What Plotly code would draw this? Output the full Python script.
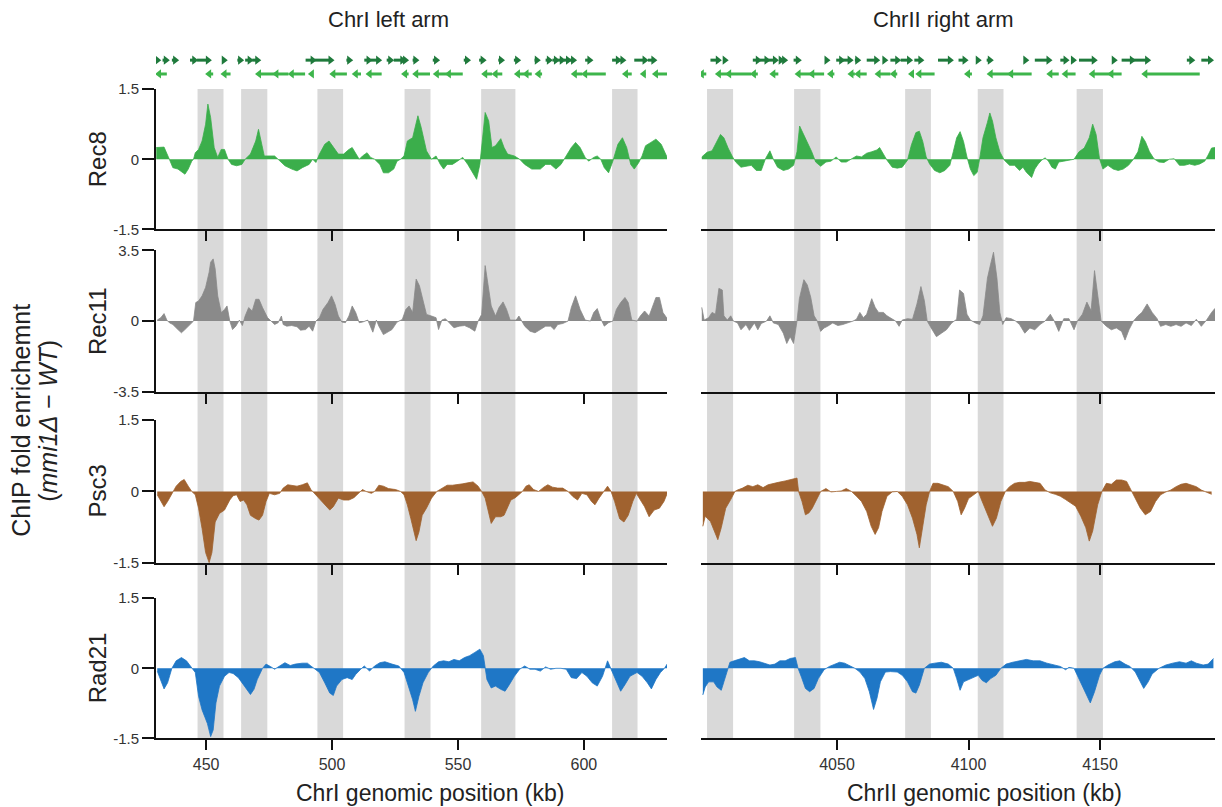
import plotly.graph_objects as go

# ---------------- data ----------------
# ChrI left arm: position (kb) and ChIP fold enrichment (mmi1Δ − WT)
rec8_L_kb = [430.2, 433.3, 435.4, 436.8, 438.8, 441.6, 442.9, 444.3, 445.0, 445.7, 447.0, 448.4, 449.8, 450.7, 451.8, 453.2, 454.6, 456.0, 457.3, 458.7, 460.1, 462.1, 464.2, 465.5, 467.6, 469.7, 470.8, 471.7, 473.1, 477.2, 478.6, 481.3, 484.0, 486.1, 488.2, 490.9, 492.3, 493.6, 495.0, 497.1, 498.8, 500.5, 502.5, 504.6, 506.7, 508.0, 509.4, 510.8, 512.1, 513.9, 515.3, 516.9, 519.0, 520.4, 522.4, 524.5, 525.8, 527.2, 528.6, 529.9, 532.0, 534.1, 535.4, 537.5, 539.5, 541.3, 543.0, 544.3, 545.7, 547.8, 549.8, 551.9, 553.9, 556.0, 557.4, 558.7, 559.7, 560.8, 562.2, 563.5, 564.9, 567.0, 568.3, 569.7, 572.4, 574.5, 576.5, 579.3, 582.7, 584.8, 586.8, 588.9, 590.9, 593.0, 595.0, 596.7, 598.5, 600.5, 601.9, 603.9, 605.3, 606.7, 608.1, 609.8, 611.5, 613.5, 615.3, 617.0, 618.6, 620.0, 621.8, 623.1, 624.5, 626.6, 628.6, 630.7, 632.7, 633.4]
rec8_L_val = [0.25, 0.26, 0.0, -0.18, -0.21, -0.32, -0.21, -0.04, 0.0, 0.14, 0.21, 0.39, 0.75, 1.18, 0.89, 0.25, 0.04, 0.21, 0.21, 0.0, -0.11, -0.14, -0.11, 0.0, 0.11, 0.39, 0.64, 0.39, 0.07, 0.07, 0.0, -0.14, -0.21, -0.25, -0.18, -0.11, 0.0, -0.07, 0.11, 0.32, 0.39, 0.25, 0.11, 0.11, 0.21, 0.25, 0.11, 0.0, 0.07, 0.14, 0.04, 0.0, -0.11, -0.29, -0.29, -0.21, -0.04, 0.0, 0.07, 0.39, 0.46, 0.93, 0.68, 0.18, 0.0, 0.07, -0.11, -0.21, -0.11, -0.11, -0.04, 0.04, -0.11, -0.29, -0.43, -0.11, 0.39, 1.0, 0.82, 0.25, 0.29, 0.44, 0.25, 0.11, 0.07, 0.0, -0.11, -0.21, -0.21, -0.11, -0.11, -0.21, -0.11, 0.07, 0.25, 0.36, 0.25, 0.04, -0.04, 0.04, 0.07, 0.0, -0.18, -0.29, -0.04, 0.32, 0.46, 0.25, -0.11, -0.21, -0.07, 0.07, 0.29, 0.36, 0.43, 0.32, 0.07, 0.0]

rec11_L_kb = [430.6, 432.0, 433.3, 434.4, 435.4, 436.8, 438.8, 440.2, 441.6, 443.6, 445.0, 445.9, 447.0, 448.4, 449.8, 451.2, 451.8, 452.8, 453.6, 454.6, 456.0, 457.3, 458.3, 459.4, 460.5, 461.8, 463.2, 464.4, 465.5, 466.9, 468.3, 469.7, 471.0, 472.4, 474.4, 475.8, 477.2, 478.6, 479.9, 480.6, 482.0, 484.0, 486.1, 487.5, 489.5, 490.9, 492.3, 493.6, 495.0, 496.4, 498.4, 499.8, 501.2, 502.5, 503.9, 505.3, 506.7, 508.0, 509.4, 510.8, 512.1, 514.2, 515.3, 516.2, 517.6, 518.6, 520.4, 521.7, 523.8, 525.8, 527.9, 529.3, 530.6, 532.0, 533.4, 534.7, 536.1, 537.5, 539.5, 541.3, 542.3, 543.6, 545.0, 546.4, 548.4, 550.5, 552.6, 554.6, 556.7, 558.0, 559.4, 560.8, 561.9, 563.2, 564.9, 566.3, 567.9, 569.3, 570.7, 573.1, 574.2, 575.2, 576.5, 578.6, 580.6, 582.7, 584.8, 586.8, 588.2, 589.6, 591.6, 593.7, 595.0, 596.7, 598.5, 600.5, 602.6, 603.9, 605.3, 606.7, 608.1, 609.8, 611.5, 612.9, 614.6, 616.3, 617.6, 619.0, 621.1, 622.4, 624.1, 625.9, 627.2, 628.6, 630.0, 631.4, 633.1]
rec11_L_val = [0.05, 0.17, 0.37, 0.05, -0.08, -0.17, -0.42, -0.58, -0.42, -0.17, 0.0, 0.92, 1.0, 1.25, 1.67, 2.42, 2.92, 3.08, 2.58, 1.25, 0.42, 0.58, 0.75, 0.0, -0.42, -0.25, 0.05, -0.22, 0.25, 0.67, 0.5, 1.08, 1.08, 0.67, 0.17, 0.0, -0.17, -0.08, 0.25, -0.17, -0.25, -0.22, -0.28, -0.45, -0.42, -0.25, -0.5, 0.0, 0.17, 0.58, 0.92, 1.25, 0.83, 0.25, -0.05, -0.08, 0.25, 0.75, 0.42, -0.08, -0.05, 0.05, -0.25, -0.55, 0.05, -0.25, -0.67, -0.58, -0.42, -0.05, 0.08, 0.58, 0.75, 0.42, 2.08, 1.75, 1.08, 0.33, 0.25, 0.17, -0.42, 0.05, 0.12, -0.08, -0.33, -0.25, -0.22, -0.33, -0.5, 0.0, 0.33, 2.75, 1.92, 0.75, 0.25, 0.67, 0.95, 0.58, 0.05, 0.05, 0.25, 0.0, -0.25, -0.5, -0.58, -0.42, -0.25, -0.25, -0.42, -0.17, -0.12, 0.0, 0.67, 1.25, 0.58, 0.05, 0.0, 0.42, 0.62, 0.12, -0.25, -0.08, 0.0, 0.58, 0.92, 1.17, 0.92, 0.05, 0.0, 0.25, 0.5, 0.25, 0.75, 1.17, 1.17, 0.42, 0.12]

psc3_L_kb = [430.6, 432.0, 433.3, 434.7, 436.8, 438.1, 439.9, 441.3, 442.9, 444.3, 445.7, 447.0, 448.4, 449.8, 451.2, 452.3, 453.6, 455.3, 457.3, 459.4, 460.7, 462.1, 463.5, 464.9, 466.2, 467.6, 469.7, 471.0, 472.4, 473.8, 475.1, 477.2, 479.2, 480.6, 482.4, 484.0, 486.1, 488.2, 490.2, 491.6, 493.0, 495.0, 497.1, 499.1, 500.5, 502.5, 504.6, 506.7, 508.7, 510.4, 512.1, 513.5, 515.6, 516.9, 518.6, 520.4, 522.4, 525.2, 527.2, 528.6, 529.9, 531.3, 532.7, 533.4, 534.5, 535.8, 537.5, 539.5, 541.6, 543.6, 545.7, 547.8, 549.8, 551.9, 553.9, 556.0, 558.0, 559.4, 560.8, 562.1, 563.2, 564.9, 567.0, 568.3, 569.7, 571.0, 572.8, 574.2, 575.6, 577.0, 578.3, 580.0, 582.0, 584.1, 585.7, 587.5, 589.6, 591.6, 593.7, 595.7, 597.5, 599.2, 601.2, 603.0, 604.4, 606.0, 608.1, 609.4, 610.8, 612.2, 614.2, 615.9, 617.6, 619.4, 620.8, 622.4, 624.1, 625.9, 627.9, 630.0, 631.8, 633.1]
psc3_L_val = [-0.07, -0.21, -0.32, -0.21, 0.0, 0.11, 0.21, 0.25, 0.11, 0.0, -0.07, -0.35, -0.78, -1.28, -1.49, -1.28, -0.64, -0.46, -0.39, -0.18, -0.09, -0.07, -0.21, -0.18, -0.28, -0.5, -0.57, -0.6, -0.5, -0.21, -0.04, -0.07, -0.04, 0.07, 0.14, 0.13, 0.11, 0.14, 0.18, 0.04, -0.04, -0.14, -0.28, -0.39, -0.32, -0.14, -0.18, -0.18, -0.13, -0.04, 0.04, 0.0, -0.04, 0.0, 0.13, 0.11, 0.06, 0.04, 0.0, -0.07, -0.28, -0.57, -0.85, -1.03, -0.85, -0.5, -0.35, -0.14, 0.0, 0.07, 0.13, 0.13, 0.14, 0.16, 0.18, 0.2, 0.11, 0.0, -0.14, -0.43, -0.67, -0.53, -0.53, -0.5, -0.35, -0.18, -0.13, -0.07, 0.0, 0.11, 0.14, 0.04, 0.0, 0.09, 0.14, 0.09, 0.07, 0.07, 0.0, -0.11, -0.18, -0.04, -0.07, -0.21, -0.28, -0.14, 0.0, 0.11, 0.0, -0.21, -0.57, -0.64, -0.5, -0.21, -0.04, -0.18, -0.32, -0.53, -0.39, -0.35, -0.21, -0.04]

rad21_L_kb = [430.6, 432.0, 433.3, 434.7, 436.4, 438.1, 440.2, 442.2, 444.3, 445.7, 447.0, 448.4, 450.5, 451.8, 452.8, 453.9, 455.3, 457.3, 459.1, 460.7, 462.8, 464.9, 466.2, 467.6, 469.0, 470.3, 472.4, 473.8, 475.5, 477.2, 479.2, 481.3, 483.4, 485.4, 488.2, 490.2, 491.6, 493.0, 495.0, 497.1, 499.1, 500.5, 501.8, 503.9, 506.0, 508.0, 509.4, 511.4, 512.8, 514.9, 516.9, 519.0, 521.0, 523.8, 526.5, 528.6, 529.9, 532.0, 533.1, 534.5, 536.1, 538.2, 540.2, 542.3, 544.3, 546.4, 548.4, 550.5, 552.6, 554.6, 556.7, 558.7, 560.1, 561.5, 563.2, 564.9, 567.0, 568.7, 570.4, 572.4, 574.5, 576.5, 578.6, 580.6, 582.7, 584.8, 586.8, 588.9, 590.9, 593.0, 595.0, 597.1, 599.2, 601.2, 603.3, 605.3, 607.4, 609.4, 610.8, 612.6, 614.6, 616.3, 618.3, 621.1, 623.1, 625.2, 626.8, 628.6, 630.4, 632.0, 633.4]
rad21_L_val = [-0.06, -0.24, -0.44, -0.31, 0.0, 0.16, 0.23, 0.16, 0.0, -0.09, -0.6, -0.89, -1.18, -1.46, -1.32, -0.74, -0.38, -0.17, -0.09, -0.11, -0.2, -0.35, -0.45, -0.56, -0.45, -0.24, 0.0, 0.09, 0.04, -0.02, 0.05, 0.12, 0.06, 0.09, 0.11, 0.11, 0.05, 0.0, -0.09, -0.31, -0.53, -0.58, -0.38, -0.24, -0.2, -0.24, -0.13, -0.02, 0.05, -0.06, 0.05, 0.12, 0.14, 0.09, 0.05, -0.09, -0.31, -0.67, -0.92, -0.6, -0.31, -0.09, 0.05, 0.14, 0.16, 0.14, 0.19, 0.16, 0.23, 0.27, 0.34, 0.41, 0.27, -0.24, -0.42, -0.38, -0.45, -0.49, -0.35, -0.17, -0.02, 0.05, -0.02, -0.02, -0.06, 0.03, -0.02, 0.0, 0.0, -0.02, -0.2, -0.22, -0.09, -0.17, -0.31, -0.38, -0.17, 0.16, -0.02, -0.24, -0.49, -0.35, -0.17, -0.09, -0.17, -0.31, -0.44, -0.24, -0.09, 0.0, 0.12]

# ChrII right arm
rec8_R_kb = [3998.6, 4000.6, 4002.5, 4004.2, 4005.7, 4007.0, 4008.6, 4010.3, 4011.5, 4013.5, 4015.4, 4017.4, 4019.3, 4021.2, 4022.8, 4024.5, 4025.8, 4027.4, 4029.6, 4031.6, 4033.5, 4034.8, 4035.8, 4036.7, 4038.7, 4040.4, 4041.9, 4043.8, 4045.8, 4047.7, 4049.7, 4051.6, 4053.5, 4055.5, 4057.4, 4059.3, 4061.3, 4063.2, 4065.2, 4066.2, 4067.7, 4069.0, 4071.0, 4072.9, 4074.8, 4076.8, 4078.3, 4080.0, 4081.3, 4082.6, 4083.9, 4085.2, 4087.1, 4089.1, 4091.0, 4092.9, 4094.2, 4095.5, 4096.8, 4098.1, 4099.4, 4100.7, 4102.0, 4103.3, 4104.2, 4105.5, 4107.2, 4108.1, 4109.1, 4110.4, 4111.9, 4113.6, 4115.6, 4117.5, 4119.4, 4120.7, 4122.0, 4124.0, 4125.2, 4126.5, 4127.8, 4129.1, 4130.4, 4131.7, 4133.0, 4134.3, 4136.2, 4138.2, 4140.1, 4142.0, 4144.0, 4145.9, 4147.2, 4148.5, 4149.8, 4151.1, 4153.0, 4155.0, 4156.9, 4158.8, 4160.8, 4162.7, 4164.4, 4165.9, 4167.2, 4168.8, 4170.5, 4172.4, 4174.3, 4176.3, 4178.2, 4180.2, 4182.1, 4184.0, 4186.0, 4187.9, 4189.8, 4191.1, 4192.4, 4193.7]
rec8_R_val = [0.05, 0.15, 0.18, 0.38, 0.53, 0.46, 0.24, 0.05, -0.06, -0.17, -0.15, -0.13, -0.24, -0.24, 0.01, 0.18, 0.0, -0.17, -0.24, -0.21, -0.13, 0.16, 0.71, 0.6, 0.38, 0.16, -0.06, -0.15, -0.06, -0.04, 0.05, -0.06, -0.06, 0.01, 0.07, 0.05, 0.13, 0.16, 0.2, 0.25, 0.09, -0.02, -0.17, -0.19, -0.17, -0.02, 0.31, 0.57, 0.6, 0.38, 0.05, -0.1, -0.24, -0.29, -0.24, -0.13, 0.16, 0.46, 0.59, 0.38, 0.05, -0.21, -0.35, -0.28, 0.0, 0.46, 0.79, 0.99, 0.82, 0.46, 0.16, -0.02, -0.13, -0.13, -0.24, -0.17, -0.28, -0.39, -0.21, -0.1, -0.02, 0.03, -0.04, -0.17, -0.21, -0.06, -0.04, -0.02, 0.0, 0.16, 0.24, 0.46, 0.75, 0.53, 0.01, -0.21, -0.13, -0.21, -0.24, -0.21, -0.13, 0.0, 0.16, 0.49, 0.38, 0.16, 0.01, -0.06, -0.07, 0.0, 0.01, -0.13, -0.13, -0.1, -0.13, -0.1, -0.04, 0.09, 0.24, 0.25]

rec11_R_kb = [3998.6, 3999.5, 4001.2, 4002.5, 4003.8, 4005.1, 4006.4, 4007.0, 4008.3, 4009.6, 4010.6, 4012.2, 4013.5, 4015.4, 4016.7, 4018.6, 4019.9, 4021.2, 4023.2, 4024.5, 4025.8, 4027.7, 4029.6, 4030.9, 4032.2, 4033.5, 4034.8, 4035.7, 4037.4, 4038.7, 4040.0, 4041.3, 4042.5, 4043.8, 4045.1, 4046.4, 4048.4, 4050.3, 4052.2, 4054.2, 4056.1, 4057.4, 4058.7, 4060.0, 4061.3, 4063.2, 4064.5, 4065.8, 4067.7, 4069.0, 4071.0, 4072.3, 4073.6, 4074.8, 4076.8, 4078.7, 4080.4, 4081.9, 4083.2, 4084.3, 4085.8, 4087.8, 4089.7, 4091.6, 4093.6, 4095.5, 4096.6, 4098.1, 4099.4, 4100.7, 4102.6, 4104.2, 4105.5, 4107.2, 4108.4, 4109.5, 4110.8, 4111.9, 4113.0, 4114.3, 4116.2, 4117.9, 4119.4, 4121.4, 4123.3, 4125.2, 4127.2, 4129.1, 4131.1, 4132.6, 4134.3, 4136.2, 4138.2, 4140.1, 4141.4, 4143.3, 4145.0, 4146.6, 4147.9, 4149.1, 4150.4, 4152.4, 4154.3, 4156.2, 4158.2, 4159.5, 4161.0, 4162.7, 4164.4, 4165.9, 4167.9, 4169.8, 4171.7, 4173.0, 4175.0, 4176.9, 4178.9, 4180.8, 4182.7, 4184.7, 4186.6, 4188.5, 4190.5, 4192.4, 4193.7]
rec11_R_val = [0.68, 0.05, 0.17, 0.43, 0.34, 1.62, 1.54, 0.26, 0.05, 0.26, 0.0, -0.09, -0.43, -0.17, -0.46, -0.09, -0.43, -0.12, 0.0, 0.26, -0.09, -0.17, -0.6, -1.11, -0.77, -1.11, 0.0, 1.11, 2.05, 1.79, 1.19, 0.26, 0.0, -0.51, -0.34, -0.26, -0.09, -0.22, -0.17, -0.09, 0.0, 0.09, 0.43, 0.17, 0.34, 1.11, 0.68, 0.43, 0.43, 0.26, 0.09, 0.0, -0.26, 0.05, 0.12, 0.09, 0.85, 1.71, 1.02, 0.0, -0.34, -0.77, -0.6, -0.43, -0.09, 0.09, 1.54, 1.37, 0.34, 0.05, -0.09, -0.17, 0.26, 2.13, 2.82, 3.41, 2.13, 0.43, -0.17, 0.17, 0.12, 0.0, -0.17, -0.6, -0.34, -0.43, -0.17, 0.0, 0.34, 0.0, -0.51, 0.12, 0.12, -0.43, 0.0, 0.34, 0.94, 0.51, 2.5, 1.28, 0.0, -0.26, -0.43, -0.34, -0.51, -0.94, -0.43, 0.0, 0.26, 0.43, 0.85, 0.43, 0.12, -0.26, -0.17, -0.26, -0.17, -0.26, -0.09, -0.22, 0.09, -0.26, 0.05, 0.43, 0.63]

psc3_R_kb = [3999.0, 3999.9, 4001.9, 4003.4, 4004.7, 4006.0, 4007.7, 4009.6, 4011.2, 4012.2, 4014.1, 4016.1, 4018.0, 4019.9, 4021.9, 4023.8, 4025.8, 4027.7, 4030.3, 4032.9, 4034.8, 4035.4, 4036.7, 4038.0, 4039.3, 4040.6, 4042.2, 4043.8, 4045.8, 4047.7, 4049.7, 4051.6, 4053.5, 4055.5, 4057.4, 4059.3, 4061.3, 4063.0, 4064.5, 4065.8, 4067.1, 4069.0, 4071.0, 4072.9, 4074.8, 4076.8, 4078.7, 4080.4, 4081.3, 4082.3, 4083.9, 4085.2, 4086.5, 4088.4, 4090.4, 4092.3, 4094.2, 4095.9, 4097.2, 4098.5, 4100.0, 4102.0, 4103.7, 4105.2, 4107.2, 4109.1, 4110.6, 4112.3, 4114.0, 4115.6, 4117.5, 4119.4, 4121.4, 4123.3, 4125.2, 4127.2, 4129.1, 4131.1, 4133.0, 4134.9, 4136.9, 4138.8, 4140.7, 4142.7, 4144.6, 4145.9, 4147.2, 4149.1, 4150.7, 4152.4, 4154.3, 4156.2, 4158.2, 4160.1, 4162.1, 4163.6, 4165.3, 4167.2, 4169.2, 4171.1, 4173.0, 4175.0, 4176.9, 4178.9, 4180.8, 4182.7, 4184.7, 4186.6, 4188.5, 4190.5, 4192.4]
psc3_R_val = [-0.73, -0.52, -0.63, -0.83, -1.01, -0.76, -0.35, -0.17, 0.0, 0.03, 0.07, 0.13, 0.1, 0.14, 0.08, 0.14, 0.17, 0.19, 0.22, 0.26, 0.28, 0.0, -0.21, -0.49, -0.45, -0.35, -0.17, 0.0, 0.06, -0.01, 0.0, 0.01, 0.06, 0.0, -0.1, -0.21, -0.42, -0.73, -0.9, -0.76, -0.42, -0.1, -0.01, 0.0, -0.1, -0.28, -0.56, -0.9, -1.18, -0.83, -0.28, 0.0, 0.17, 0.17, 0.13, 0.1, 0.0, -0.21, -0.49, -0.35, -0.15, -0.07, 0.0, -0.21, -0.49, -0.73, -0.56, -0.21, 0.0, 0.1, 0.17, 0.19, 0.19, 0.21, 0.19, 0.17, 0.03, -0.03, -0.06, -0.1, -0.17, -0.24, -0.31, -0.52, -0.76, -1.04, -0.83, -0.28, 0.0, 0.17, 0.15, 0.24, 0.24, 0.21, 0.0, -0.14, -0.35, -0.49, -0.42, -0.21, -0.07, -0.01, 0.03, 0.1, 0.15, 0.17, 0.14, 0.1, 0.03, -0.01, -0.06]

rad21_R_kb = [3999.0, 3999.9, 4001.2, 4003.1, 4004.4, 4006.0, 4007.0, 4008.3, 4009.3, 4010.9, 4012.8, 4014.8, 4016.7, 4018.6, 4020.6, 4022.5, 4024.5, 4026.4, 4028.3, 4030.3, 4032.2, 4034.2, 4035.2, 4036.5, 4038.0, 4039.6, 4041.3, 4042.9, 4045.1, 4047.1, 4049.0, 4051.0, 4052.9, 4054.8, 4056.8, 4058.7, 4060.6, 4062.3, 4063.9, 4065.2, 4066.5, 4068.4, 4070.3, 4072.9, 4074.8, 4076.8, 4078.7, 4080.0, 4081.3, 4083.2, 4085.2, 4087.1, 4089.7, 4092.3, 4094.2, 4095.5, 4096.8, 4098.1, 4100.0, 4102.0, 4103.7, 4105.2, 4106.8, 4108.4, 4110.4, 4112.3, 4114.3, 4116.8, 4119.4, 4122.0, 4124.6, 4127.2, 4129.8, 4132.3, 4134.9, 4136.9, 4138.2, 4140.1, 4141.4, 4143.3, 4145.0, 4146.3, 4147.9, 4149.8, 4151.1, 4153.0, 4155.6, 4157.5, 4159.5, 4161.4, 4163.4, 4164.9, 4166.6, 4168.3, 4169.8, 4172.4, 4175.0, 4177.6, 4180.2, 4182.7, 4184.7, 4186.6, 4189.2, 4191.1, 4193.1]
rad21_R_val = [-0.57, -0.4, -0.29, -0.29, -0.4, -0.47, -0.29, -0.08, 0.13, 0.16, 0.19, 0.23, 0.16, 0.16, 0.14, 0.11, 0.07, 0.09, 0.16, 0.16, 0.21, 0.23, 0.0, -0.19, -0.43, -0.5, -0.43, -0.22, -0.03, 0.04, 0.09, 0.13, 0.11, 0.06, 0.0, -0.08, -0.22, -0.5, -0.88, -0.64, -0.29, -0.08, -0.07, -0.08, -0.15, -0.29, -0.5, -0.53, -0.36, 0.0, 0.09, 0.11, 0.13, 0.09, 0.0, -0.22, -0.47, -0.29, -0.24, -0.19, -0.15, -0.26, -0.31, -0.22, -0.15, 0.0, 0.09, 0.13, 0.16, 0.19, 0.16, 0.16, 0.11, 0.07, 0.04, -0.03, 0.02, 0.0, -0.15, -0.36, -0.57, -0.74, -0.5, -0.15, 0.0, 0.07, 0.14, 0.16, 0.09, 0.04, -0.08, -0.26, -0.43, -0.29, -0.12, 0.0, 0.07, 0.11, 0.14, 0.11, 0.16, 0.11, 0.07, 0.09, 0.21]

# shaded regions (kb)
band_L_start = [446.6, 463.9, 494.2, 528.8, 559.2, 611.2]
band_L_end = [456.9, 474.3, 504.4, 539.1, 572.8, 621.3]
band_R_start = [4000.6, 4033.7, 4075.9, 4103.5, 4141.1]
band_R_end = [4010.5, 4043.7, 4085.7, 4113.3, 4151.1]

# gene annotation (kb): forward (top row) and reverse (bottom row) strands
gene_fwd_L_start = [429.9, 432.7, 436.4, 443.6, 446.4, 456.4, 462.4, 465.5, 468.3, 489.5, 493.0, 505.7, 512.8, 515.3, 521.7, 524.5, 528.6, 532.0, 540.0, 552.3, 558.4, 566.0, 572.2, 580.4, 584.8, 587.5, 589.8, 592.0, 594.0, 600.5, 611.2, 613.5, 620.0, 625.4]
gene_fwd_L_end = [430.6, 434.0, 437.7, 445.3, 450.7, 457.0, 463.5, 467.3, 470.3, 492.3, 499.4, 506.8, 514.5, 518.3, 523.1, 527.9, 529.0, 533.1, 541.3, 553.6, 559.8, 567.1, 573.5, 581.3, 586.1, 588.9, 591.2, 593.7, 595.7, 602.2, 613.5, 615.3, 624.1, 627.6]
gene_rev_L_start = [431.3, 451.2, 457.3, 471.0, 477.9, 484.0, 492.0, 500.5, 509.4, 514.9, 529.0, 533.4, 541.6, 546.4, 560.8, 564.9, 573.8, 577.2, 582.0, 596.4, 600.5, 616.7, 623.8, 628.6]
gene_rev_L_end = [434.4, 452.8, 459.7, 477.9, 482.7, 489.3, 492.5, 505.9, 511.5, 519.7, 530.4, 538.9, 545.7, 551.9, 563.5, 567.6, 576.5, 579.3, 583.4, 599.4, 608.7, 619.0, 624.5, 633.7]
gene_fwd_R_start = [4001.9, 4006.8, 4018.0, 4020.6, 4023.8, 4028.1, 4029.4, 4033.5, 4045.5, 4049.7, 4052.2, 4056.8, 4061.3, 4067.5, 4070.3, 4074.2, 4079.4, 4088.4, 4096.2, 4103.0, 4106.9, 4121.1, 4125.2, 4134.9, 4139.2, 4142.0, 4154.7, 4158.2, 4162.1, 4183.0, 4188.5]
gene_fwd_R_end = [4004.7, 4007.3, 4019.9, 4023.2, 4026.4, 4028.6, 4029.9, 4035.1, 4046.0, 4051.6, 4054.8, 4057.7, 4064.9, 4068.0, 4072.9, 4077.4, 4081.7, 4092.9, 4098.5, 4103.5, 4108.1, 4121.6, 4130.4, 4136.9, 4139.7, 4147.6, 4155.2, 4162.1, 4167.9, 4184.7, 4191.8]
gene_rev_R_start = [3998.6, 4005.1, 4009.0, 4018.4, 4025.8, 4035.4, 4040.6, 4047.7, 4055.5, 4058.1, 4065.8, 4071.6, 4078.5, 4081.3, 4099.8, 4108.4, 4116.2, 4131.1, 4136.9, 4147.2, 4154.3, 4167.2]
gene_rev_R_end = [4000.3, 4009.0, 4017.4, 4019.9, 4027.7, 4040.6, 4045.1, 4049.0, 4056.8, 4061.3, 4070.3, 4072.9, 4079.0, 4087.1, 4101.3, 4116.2, 4124.0, 4134.3, 4140.7, 4154.3, 4158.2, 4187.9]

proteins = ["Rec8", "Rec11", "Psc3", "Rad21"]
ylims = [1.5, 3.5, 1.5, 1.5]
x_ticks_L = [450, 500, 550, 600]
x_ticks_R = [4050, 4100, 4150]
col_titles = ["ChrI left arm", "ChrII right arm"]
x_titles = ["ChrI genomic position (kb)", "ChrII genomic position (kb)"]

# ---------------- styling / layout ----------------
W, H = 1222, 807
FONT = "Liberation Sans, Arial, Helvetica, sans-serif"
COLORS = {"Rec8": "#3bae4b", "Rec11": "#8a8a8a", "Psc3": "#a0622f", "Rad21": "#1f77c6"}
BAND = "#d9d9d9"
FWD_C, REV_C = "#1f7a3c", "#3db54b"
TXT = "#222222"

# vertical placement calibration (target picture pixels -> layout pixels)
V_OFF, V_SCALE = 9.06, 0.9769


def fx(px):
    return px / W


def fy(px):
    return 1 - ((px - V_OFF) / V_SCALE) / H


COLS = {"L": (156, 667), "R": (701, 1215)}
XRANGE = {"L": [430.1, 633.0], "R": [3998.3, 4193.7]}
XTICKS = {"L": x_ticks_L, "R": x_ticks_R}
ROWS_PX = {"genes": (52, 82), "Rec8": (89, 229), "Rec11": (250, 391), "Psc3": (419, 562), "Rad21": (597, 737)}

series = {
    ("Rec8", "L"): (rec8_L_kb, rec8_L_val), ("Rec8", "R"): (rec8_R_kb, rec8_R_val),
    ("Rec11", "L"): (rec11_L_kb, rec11_L_val), ("Rec11", "R"): (rec11_R_kb, rec11_R_val),
    ("Psc3", "L"): (psc3_L_kb, psc3_L_val), ("Psc3", "R"): (psc3_R_kb, psc3_R_val),
    ("Rad21", "L"): (rad21_L_kb, rad21_L_val), ("Rad21", "R"): (rad21_R_kb, rad21_R_val),
}
genes = {
    "L": (gene_fwd_L_start, gene_fwd_L_end, gene_rev_L_start, gene_rev_L_end),
    "R": (gene_fwd_R_start, gene_fwd_R_end, gene_rev_R_start, gene_rev_R_end),
}
bands = {"L": (band_L_start, band_L_end), "R": (band_R_start, band_R_end)}

fig = go.Figure()
layout = {}
shapes = []
annotations = []
counter = [0]
col_xref = {}


def new_axes():
    counter[0] += 1
    n = counter[0]
    s = "" if n == 1 else str(n)
    return "x" + s, "y" + s, "xaxis" + s, "yaxis" + s


def label(text, x, y, size, angle=0):
    annotations.append(dict(text=text, x=fx(x), y=fy(y), xref="paper", yref="paper",
                            xanchor="center", yanchor="middle", textangle=angle, showarrow=False,
                            font=dict(size=size, color=TXT, family=FONT)))


axis_line = dict(showline=True, linecolor="#111111", linewidth=2, mirror=False)

# gene track rows
for col in ["L", "R"]:
    xid, yid, xa, ya = new_axes()
    layout[xa] = dict(domain=[fx(COLS[col][0]), fx(COLS[col][1])], range=XRANGE[col],
                      visible=False, anchor=yid, fixedrange=True)
    top, bot = ROWS_PX["genes"]
    layout[ya] = dict(domain=[fy(bot), fy(top)], range=[0, 1], visible=False, anchor=xid, fixedrange=True)
    fs, fe, rs, re_ = genes[col]
    gx, gy = [], []
    for s, e in zip(fs, fe):
        gx += [s, e, None]
        gy += [0.73, 0.73, None]
    fig.add_trace(go.Scatter(x=gx, y=gy, mode="lines", line=dict(color=FWD_C, width=3),
                             xaxis=xid, yaxis=yid, hoverinfo="skip", showlegend=False))
    fig.add_trace(go.Scatter(x=fe, y=[0.73] * len(fe), mode="markers",
                             marker=dict(symbol="triangle-right", size=8, color=FWD_C),
                             xaxis=xid, yaxis=yid, hoverinfo="skip", showlegend=False))
    gx, gy = [], []
    for s, e in zip(rs, re_):
        gx += [s, e, None]
        gy += [0.27, 0.27, None]
    fig.add_trace(go.Scatter(x=gx, y=gy, mode="lines", line=dict(color=REV_C, width=3),
                             xaxis=xid, yaxis=yid, hoverinfo="skip", showlegend=False))
    fig.add_trace(go.Scatter(x=rs, y=[0.27] * len(rs), mode="markers",
                             marker=dict(symbol="triangle-left", size=8, color=REV_C),
                             xaxis=xid, yaxis=yid, hoverinfo="skip", showlegend=False))

# data rows
for i, prot in enumerate(proteins):
    lim = ylims[i]
    top, bot = ROWS_PX[prot]
    last = (i == len(proteins) - 1)
    for col in ["L", "R"]:
        xid, yid, xa, ya = new_axes()
        col_xref.setdefault(col, xid)
        layout[xa] = dict(domain=[fx(COLS[col][0]), fx(COLS[col][1])], range=XRANGE[col],
                          anchor=yid, showgrid=False, zeroline=False,
                          ticks="outside", ticklen=10, tickwidth=2, tickcolor="#111111",
                          tickvals=XTICKS[col], showticklabels=last,
                          ticklabelstandoff=0,
                          tickfont=dict(size=16, color="#333333", family=FONT),
                          fixedrange=True, **axis_line)
        ydict = dict(domain=[fy(bot), fy(top)], range=[-lim, lim], anchor=xid,
                     showgrid=False, zeroline=False, fixedrange=True)
        if col == "L":
            lab = ("%g" % lim)
            ydict.update(ticks="outside", ticklen=12, tickwidth=2, tickcolor="#111111",
                         tickvals=[-lim, 0, lim], ticktext=["-" + lab, "0", lab],
                         tickfont=dict(size=15, color="#333333", family=FONT), **axis_line)
        else:
            ydict.update(visible=False)
        layout[ya] = ydict
        kb, val = series[(prot, col)]
        n = min(len(kb), len(val))
        c = COLORS[prot]
        fig.add_trace(go.Scatter(x=kb[:n], y=val[:n], mode="lines", fill="tozeroy",
                                 line=dict(color=c, width=0.8), fillcolor=c,
                                 xaxis=xid, yaxis=yid, hoverinfo="skip", showlegend=False))
    label(prot, 97, (top + bot) / 2, 24, -90)

# shaded bands spanning all data rows
for col in ["L", "R"]:
    s_list, e_list = bands[col]
    for s, e in zip(s_list, e_list):
        shapes.append(dict(type="rect", xref=col_xref[col], yref="paper", x0=s, x1=e,
                           y0=fy(ROWS_PX["Rad21"][1]), y1=fy(ROWS_PX["Rec8"][0]),
                           fillcolor=BAND, line=dict(width=0), layer="below"))

# titles and axis labels
for t, cx in zip(col_titles, [388, 943]):
    label(t, cx, 20, 22)
for t, cx in zip(x_titles, [430, 984]):
    label(t, cx, 791, 23)
label("ChIP fold enrichemnt", 21, 420, 25, -90)
label("(<i>mmi1Δ</i> \u2212 <i>WT</i>)", 48, 420, 25, -90)

fig.update_layout(
    width=W, height=H,
    margin=dict(l=0, r=0, t=0, b=0),
    paper_bgcolor="white", plot_bgcolor="rgba(0,0,0,0)",
    showlegend=False,
    font=dict(family=FONT, color=TXT),
    shapes=shapes, annotations=annotations,
    **layout,
)

fig.write_html("out.html", config={"displayModeBar": False},
               post_script="document.body.style.margin='0px';")
